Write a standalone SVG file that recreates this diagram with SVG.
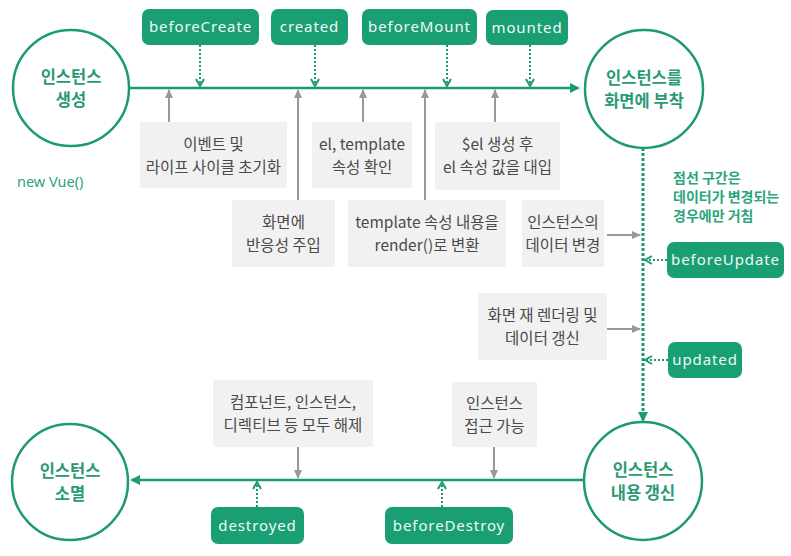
<svg xmlns="http://www.w3.org/2000/svg" width="791" height="556" viewBox="0 0 791 556">
<defs>
<style>
.circ{fill:#fff;stroke:#1e9a6f;stroke-width:2.5}
.ctext{font-family:"Noto Sans CJK KR","Noto Sans",sans-serif;font-size:16.5px;font-weight:bold;fill:#2a9a74;text-anchor:middle}
.pill{fill:#1a9e74}
.ptext{font-family:"Noto Sans","Liberation Sans",sans-serif;font-size:15px;fill:#eef9f4;text-anchor:middle;letter-spacing:0.9px}
.box{fill:#f1f1f1}
.btext{font-family:"Noto Sans CJK KR","Noto Sans",sans-serif;font-size:15.5px;fill:#4a4a4a;text-anchor:middle}
.main{stroke:#1e9a6f;stroke-width:2.5;fill:none}
.dot{stroke:#1e9a6f;stroke-width:2;stroke-dasharray:2 2;fill:none}
.vdot{stroke:#1e9a6f;stroke-width:3;stroke-dasharray:3 2;fill:none}
.gray{stroke:#999;stroke-width:2;fill:none}
.note{font-family:"Noto Sans CJK KR","Noto Sans",sans-serif;font-size:14px;font-weight:bold;fill:#2aa57c}
</style>
<marker id="ah" markerWidth="10" markerHeight="10" refX="8" refY="5" orient="auto" markerUnits="userSpaceOnUse"><path d="M0,0 L10,5 L0,10 z" fill="#1e9a6f"/></marker>
<marker id="ch" markerWidth="10" markerHeight="10" refX="8" refY="5" orient="auto" markerUnits="userSpaceOnUse"><path d="M1,1 L8,5 L1,9" fill="none" stroke="#1e9a6f" stroke-width="2"/></marker>
<marker id="ga" markerWidth="10" markerHeight="10" refX="8" refY="5" orient="auto" markerUnits="userSpaceOnUse"><path d="M0,1 L9,5 L0,9 z" fill="#999"/></marker>
</defs>
<rect width="791" height="556" fill="#fff"/>

<g id="connectors">
<line class="main" x1="130" y1="88" x2="578" y2="88" marker-end="url(#ah)"/>
<line class="main" x1="584" y1="480" x2="132" y2="480" marker-end="url(#ah)"/>
<line class="vdot" x1="643" y1="148" x2="643" y2="420" marker-end="url(#ah)"/>
<line class="dot" x1="200" y1="45" x2="200" y2="86" marker-end="url(#ch)"/>
<line class="dot" x1="315" y1="45" x2="315" y2="86" marker-end="url(#ch)"/>
<line class="dot" x1="447" y1="45" x2="447" y2="86" marker-end="url(#ch)"/>
<line class="dot" x1="530" y1="45" x2="530" y2="86" marker-end="url(#ch)"/>
<line class="dot" x1="667" y1="260" x2="645" y2="260" marker-end="url(#ch)"/>
<line class="dot" x1="668" y1="360" x2="645" y2="360" marker-end="url(#ch)"/>
<line class="dot" x1="257" y1="507" x2="257" y2="482" marker-end="url(#ch)"/>
<line class="dot" x1="442" y1="507" x2="442" y2="482" marker-end="url(#ch)"/>
<line class="gray" x1="169" y1="122" x2="169" y2="90" marker-end="url(#ga)"/>
<line class="gray" x1="298" y1="200" x2="298" y2="90" marker-end="url(#ga)"/>
<line class="gray" x1="363" y1="122" x2="363" y2="90" marker-end="url(#ga)"/>
<line class="gray" x1="425" y1="200" x2="425" y2="90" marker-end="url(#ga)"/>
<line class="gray" x1="495" y1="122" x2="495" y2="90" marker-end="url(#ga)"/>
<line class="gray" x1="607" y1="235" x2="640" y2="235" marker-end="url(#ga)"/>
<line class="gray" x1="607" y1="329" x2="640" y2="329" marker-end="url(#ga)"/>
<line class="gray" x1="298" y1="447" x2="298" y2="478" marker-end="url(#ga)"/>
<line class="gray" x1="494" y1="447" x2="494" y2="478" marker-end="url(#ga)"/>
</g>

<g id="n-create"><circle class="circ" cx="71" cy="88" r="58"/><text class="ctext" x="71" y="83">인스턴스</text><text class="ctext" x="71" y="106">생성</text></g>
<g id="n-mount"><circle class="circ" cx="644" cy="89" r="59"/><text class="ctext" x="644" y="84">인스턴스를</text><text class="ctext" x="644" y="107">화면에 부착</text></g>
<g id="n-update"><circle class="circ" cx="643" cy="481" r="59"/><text class="ctext" x="643" y="476">인스턴스</text><text class="ctext" x="643" y="499">내용 갱신</text></g>
<g id="n-destroy"><circle class="circ" cx="70" cy="482" r="58"/><text class="ctext" x="70" y="477">인스턴스</text><text class="ctext" x="70" y="500">소멸</text></g>

<g id="p-beforeCreate"><rect class="pill" x="142" y="9" width="117" height="36" rx="7"/><text class="ptext" x="200.5" y="32">beforeCreate</text></g>
<g id="p-created"><rect class="pill" x="271" y="9" width="77" height="36" rx="7"/><text class="ptext" x="309.5" y="32">created</text></g>
<g id="p-beforeMount"><rect class="pill" x="362" y="9" width="115" height="36" rx="7"/><text class="ptext" x="419.5" y="32">beforeMount</text></g>
<g id="p-mounted"><rect class="pill" x="486" y="10" width="82" height="35" rx="7"/><text class="ptext" x="527" y="33">mounted</text></g>
<g id="p-beforeUpdate"><rect class="pill" x="667" y="242" width="117" height="36" rx="7"/><text class="ptext" x="725.5" y="265">beforeUpdate</text></g>
<g id="p-updated"><rect class="pill" x="668" y="342" width="74" height="36" rx="7"/><text class="ptext" x="705" y="365">updated</text></g>
<g id="p-destroyed"><rect class="pill" x="211" y="507" width="93" height="37" rx="7"/><text class="ptext" x="257.5" y="531">destroyed</text></g>
<g id="p-beforeDestroy"><rect class="pill" x="385" y="507" width="128" height="37" rx="7"/><text class="ptext" x="449" y="531">beforeDestroy</text></g>

<g id="b-init"><rect class="box" x="140" y="122" width="147" height="66"/><text class="btext" x="213.5" y="150">이벤트 및</text><text class="btext" x="213.5" y="173">라이프 사이클 초기화</text></g>
<g id="b-check"><rect class="box" x="312" y="122" width="100" height="66"/><text class="btext" x="362" y="150">el, template</text><text class="btext" x="362" y="173">속성 확인</text></g>
<g id="b-el"><rect class="box" x="435" y="122" width="125" height="68"/><text class="btext" x="497.5" y="150">$el 생성 후</text><text class="btext" x="497.5" y="173">el 속성 값을 대입</text></g>
<g id="b-reactive"><rect class="box" x="232" y="200" width="103" height="67"/><text class="btext" x="283.5" y="228">화면에</text><text class="btext" x="283.5" y="251">반응성 주입</text></g>
<g id="b-render"><rect class="box" x="348" y="200" width="158" height="67"/><text class="btext" x="427" y="228">template 속성 내용을</text><text class="btext" x="427" y="251">render()로 변환</text></g>
<g id="b-datachange"><rect class="box" x="522" y="200" width="82" height="67"/><text class="btext" x="563" y="228">인스턴스의</text><text class="btext" x="563" y="251">데이터 변경</text></g>
<g id="b-rerender"><rect class="box" x="478" y="293" width="129" height="67"/><text class="btext" x="542.5" y="321">화면 재 렌더링 및</text><text class="btext" x="542.5" y="344">데이터 갱신</text></g>
<g id="b-release"><rect class="box" x="213" y="380" width="160" height="67"/><text class="btext" x="293" y="408">컴포넌트, 인스턴스,</text><text class="btext" x="293" y="431">디렉티브 등 모두 해제</text></g>
<g id="b-access"><rect class="box" x="452" y="382" width="85" height="65"/><text class="btext" x="494.5" y="409">인스턴스</text><text class="btext" x="494.5" y="432">접근 가능</text></g>

<g id="notes">
<text font-family="Noto Sans, Liberation Sans, sans-serif" font-size="14.5px" fill="#2aa57c" x="17" y="187">new Vue()</text>
<text class="note" x="673" y="183">점선 구간은</text>
<text class="note" x="673" y="202">데이터가 변경되는</text>
<text class="note" x="673" y="221">경우에만 거침</text>
</g>
</svg>
